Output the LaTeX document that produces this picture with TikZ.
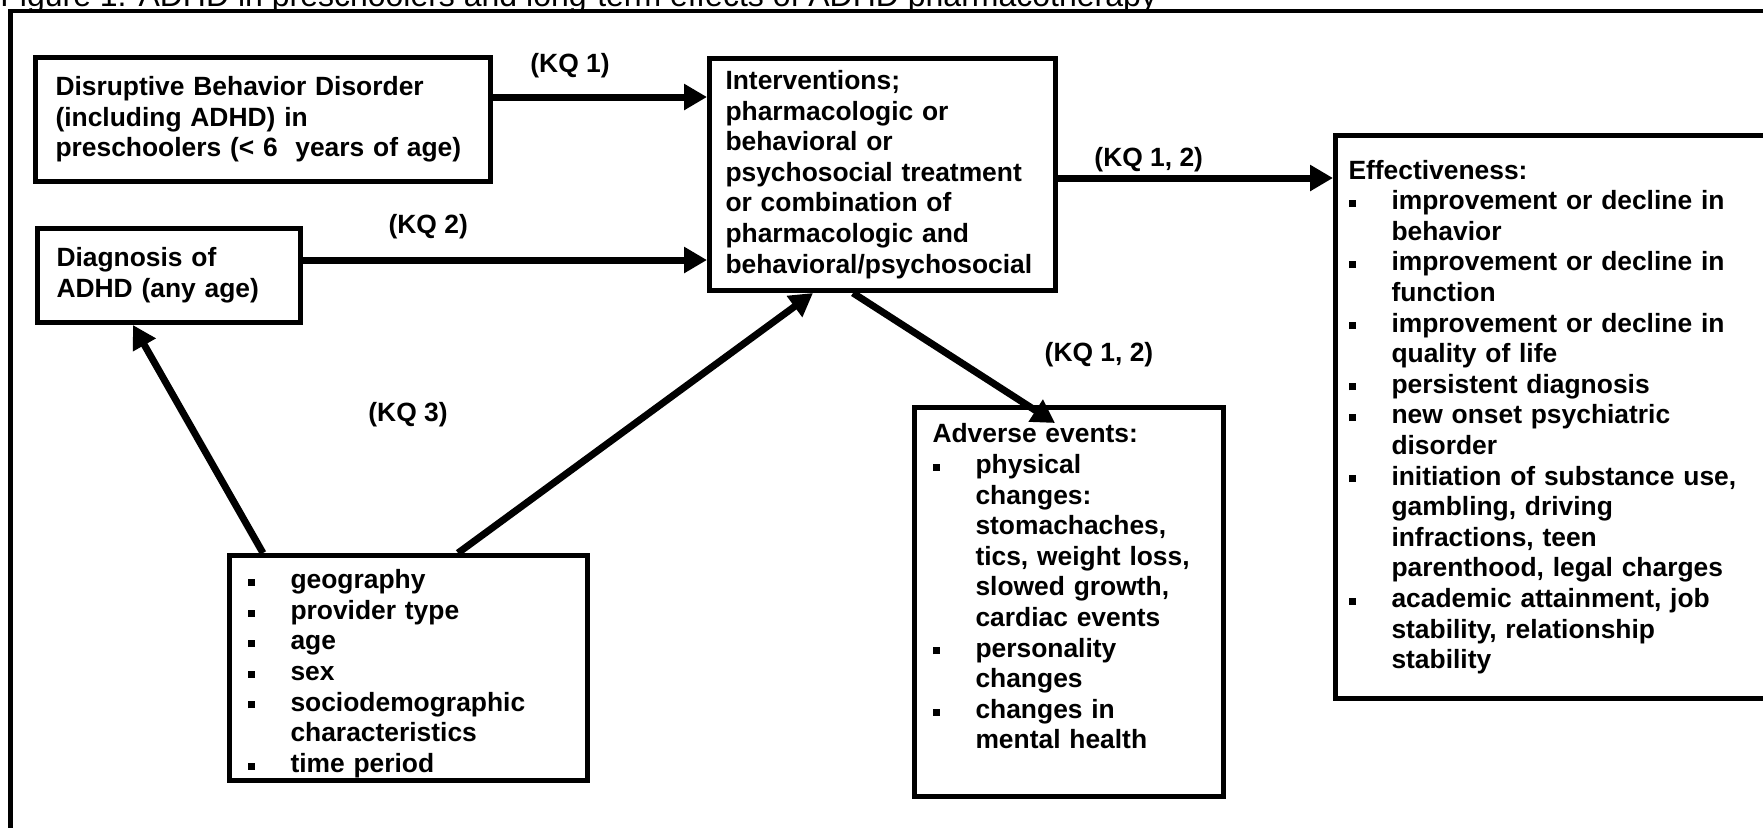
\documentclass[tikz,border=0pt]{standalone}
\usepackage{fontspec}
\setmainfont{Liberation Sans}
\usetikzlibrary{arrows.meta}

%% square bullet items with hanging indent
\newcommand{\sqbullet}{\rule[1.4pt]{3.5pt}{3.5pt}}
\newcommand{\bitem}{\par\hangindent=21.5pt\hangafter=1\noindent
  \makebox[21.5pt][l]{\sqbullet}}

\begin{document}
\begin{tikzpicture}[
  x=0.5pt, y=-0.5pt,
  >={Triangle[length=11.5pt,width=12.5pt]},
  %% Main node styles
  box/.style={
    draw, line width=2.5pt, anchor=north west, align=left,
    inner xsep=9pt, inner ysep=0pt,
    font=\fontsize{13.2pt}{15.3pt}\selectfont\bfseries
  },
  kq/.style={
    inner sep=0pt, font=\fontsize{13.2pt}{15.3pt}\selectfont\bfseries
  },
  link/.style={->, line width=3.5pt},
  frame/.style={line width=2.15pt},
  title/.style={
    inner sep=0pt, anchor=base west,
    font=\fontsize{16pt}{19pt}\selectfont
  },
]

\useasboundingbox (0,0) rectangle (1763,827);
\clip (0,0) rectangle (1763,827);

%% ── FRAME AND TITLE ───────────────────────────────────────────────────────
\node[title] (title) at (0,6)
  {Figure 1. ADHD in preschoolers and long-term effects of ADHD pharmacotherapy};
\draw[frame] (10.5,11.3) rectangle (1800,900);

%% ── MAIN NODES ────────────────────────────────────────────────────────────
\node[box, inner xsep=10pt, text width=207.5pt,
      minimum width=227.5pt, minimum height=62pt] (dbd) at (33,55)
  {Disruptive Behavior Disorder\\(including ADHD) in\\preschoolers (< 6\ \ years of age)};

\node[box, inner xsep=9.5pt, text width=112.5pt,
      minimum width=131.5pt, minimum height=47pt] (diag) at (35,226)
  {Diagnosis of\\ADHD (any age)};

\node[box, inner xsep=8pt, text width=157pt,
      minimum width=173pt, minimum height=116pt] (interv) at (707,56)
  {Interventions;\\pharmacologic or\\behavioral or\\psychosocial treatment\\or combination of\\pharmacologic and\\behavioral/psychosocial};

\node[box, inner xsep=6.5pt, text width=213pt,
      minimum width=226pt, minimum height=281.5pt] (effect) at (1333,133)
  {Effectiveness:
   \bitem improvement or decline in\newline behavior
   \bitem improvement or decline in\newline function
   \bitem improvement or decline in\newline quality of life
   \bitem persistent diagnosis
   \bitem new onset psychiatric\newline disorder
   \bitem initiation of substance use,\newline gambling, driving\newline infractions, teen\newline parenthood, legal charges
   \bitem academic attainment, job\newline stability, relationship\newline stability\par};

\node[box, text width=136.5pt,
      minimum width=154.5pt, minimum height=194.5pt] (adverse) at (912,405)
  {Adverse events:
   \bitem physical\newline changes:\newline stomachaches,\newline tics, weight loss,\newline slowed growth,\newline cardiac events
   \bitem personality\newline changes
   \bitem changes in\newline mental health\par\kern15.5pt};

\node[box, text width=161pt,
      minimum width=179pt, minimum height=112.5pt] (factors) at (227,553)
  {\bitem geography
   \bitem provider type
   \bitem age
   \bitem sex
   \bitem sociodemographic\newline characteristics
   \bitem time period\par};

%% ── ARROWS ────────────────────────────────────────────────────────────────
\coordinate (a1s) at ([yshift=11.25pt]dbd.east);
\coordinate (a2s) at ([yshift=7.75pt]diag.east);
\coordinate (a3s) at ([yshift=-1.75pt]interv.east);

%% Disorder → Interventions
\draw[link] (a1s) -- (a1s -| interv.west)
  node[kq, pos=0.36, yshift=15.5pt] (kq1) {(KQ 1)};

%% Diagnosis → Interventions
\draw[link] (a2s) -- (a2s -| interv.west)
  node[kq, pos=0.31, yshift=16.5pt] (kq2) {(KQ 2)};

%% Interventions → Effectiveness
\draw[link] (a3s) -- (a3s -| effect.west)
  node[kq, pos=0.33, yshift=9pt] (kq12a) {(KQ 1, 2)};

%% Interventions → Adverse events
\draw[link] ([xshift=-14.75pt]interv.south) -- ([xshift=-7pt, yshift=-9pt]adverse.north);
\node[kq] (kq12b) at (1099,355) {(KQ 1, 2)};

%% Factors → Interventions / Diagnosis
\draw[link] ([xshift=24.75pt]factors.north) -- ([xshift=-34.75pt]interv.south);
\draw[link] ([xshift=-72.75pt]factors.north) -- ([xshift=-18pt]diag.south);
\node[kq] (kq3) at (408,415) {(KQ 3)};

\end{tikzpicture}
\end{document}
